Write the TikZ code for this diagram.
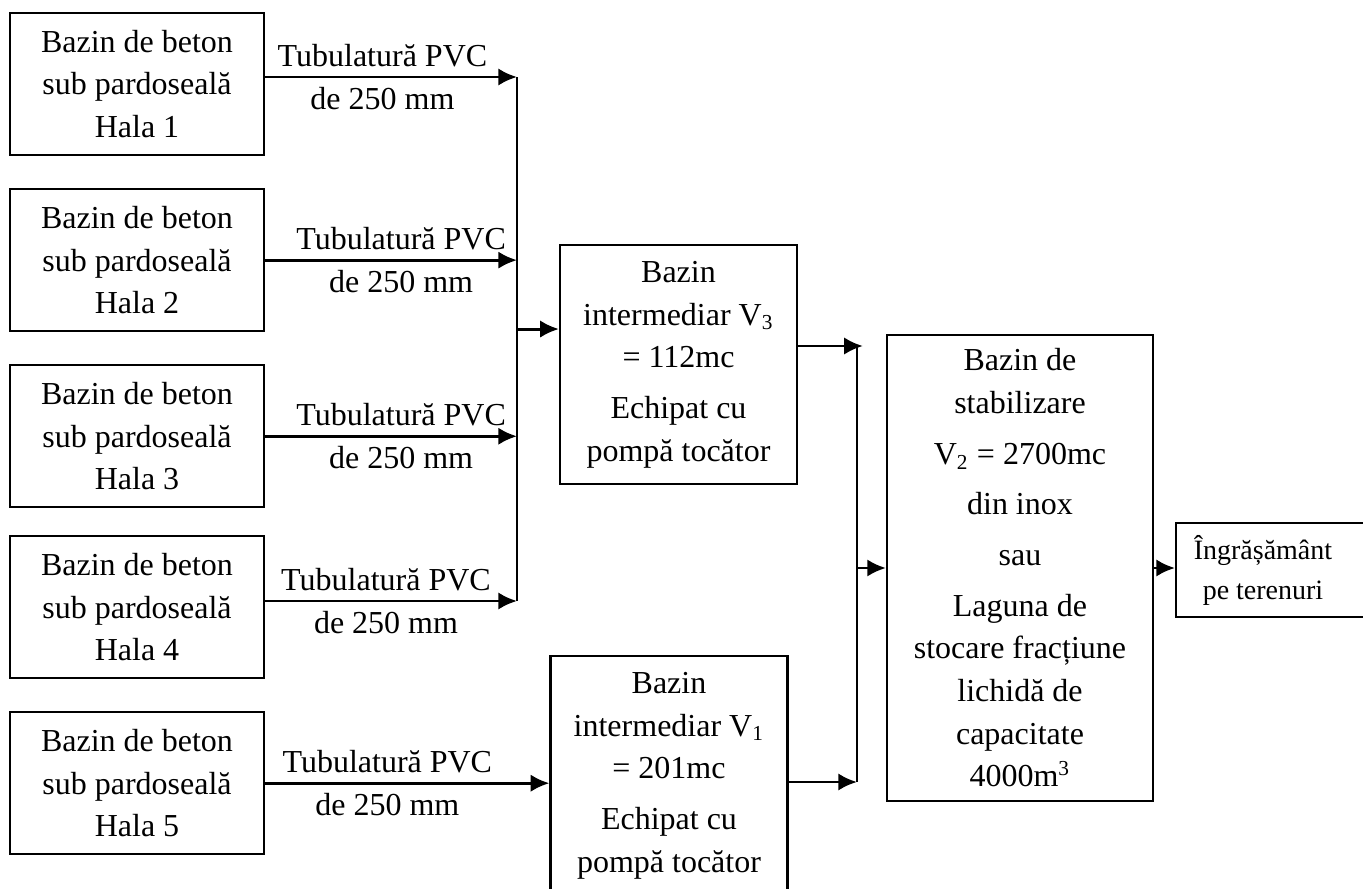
\documentclass[tikz,border=0pt]{standalone}
\usepackage{fontspec}
\setmainfont{Liberation Serif}
\usetikzlibrary{
arrows.meta,
positioning
}
\tikzset{>={Latex[length=7pt,width=6.5pt]}}

\begin{document}
\begin{tikzpicture}[x=0.375pt, y=-0.375pt, font=\fontsize{12}{16}\selectfont,
	hala/.style={draw,line width=0.8pt,minimum width=95.25pt,minimum height=53.25pt,align=center,inner sep=0pt},
	bazin/.style={draw,line width=0.8pt,minimum width=88.9pt,minimum height=89.6pt,align=center,inner sep=0pt},
	pipe/.style={align=center,inner sep=0pt},
	flow/.style={->,line width=1.1pt}]
	\useasboundingbox (0,0) rectangle (1363,889);

	% basins under the halls
	\node[hala] (h1) at (137,84) {Bazin de beton\\sub pardoseală\\Hala 1};
	\node[hala,below=12pt of h1] (h2) {Bazin de beton\\sub pardoseală\\Hala 2};
	\node[hala,below=12pt of h2] (h3) {Bazin de beton\\sub pardoseală\\Hala 3};
	\node[hala,below=10pt of h3] (h4) {Bazin de beton\\sub pardoseală\\Hala 4};
	\node[hala,below=12pt of h4] (h5) {Bazin de beton\\sub pardoseală\\Hala 5};

	% intermediate basins
	\node[bazin] (v3) at (678.5,364.5) {Bazin\\intermediar V\textsubscript{3}\\= 112mc\\[3pt]Echipat cu\\pompă tocător};
	\node[bazin] (v1) at (669,775.5) {Bazin\\intermediar V\textsubscript{1}\\= 201mc\\[3pt]Echipat cu\\pompă tocător};

	\node[draw,line width=0.8pt,minimum width=99.75pt,minimum height=174.75pt,align=center,inner sep=0pt] (stab) at (1020,568)
		{Bazin de\\stabilizare\\[3pt]V\textsubscript{2} = 2700mc\\[3pt]din inox\\[3pt]sau\\[3pt]Laguna de\\stocare fracțiune\\lichidă de\\capacitate\\4000m\textsuperscript{3}};

	\node[draw,line width=0.8pt,minimum width=75pt,minimum height=35.25pt,anchor=west] (out) at (1175,570) {};
	\node[align=center,font=\fontsize{10.5}{15}\selectfont] (outtext) at (1263,570) {Îngrășământ\\pe terenuri};

	% collectors
	\coordinate (bus1top) at (517,77);
	\coordinate (bus1bot) at (517,601);
	\coordinate (bus2top) at (857,346);
	\coordinate (bus2bot) at (857,782);
	\draw[line width=0.9pt] (bus1top) -- (bus1bot);
	\draw[line width=0.9pt] (bus2top) -- (bus2bot);

	\draw[flow] (h1.east |- bus1top) -- node[pipe,pos=0.466] {Tubulatură PVC\\de 250 mm} (bus1top);
	\draw[flow] (h2.east) -- node[pipe,pos=0.54] {Tubulatură PVC\\de 250 mm} (h2.east -| bus1top);
	\draw[flow] (h3.east) -- node[pipe,pos=0.54] {Tubulatură PVC\\de 250 mm} (h3.east -| bus1top);
	\draw[flow] (h4.east |- bus1bot) -- node[pipe,pos=0.48] {Tubulatură PVC\\de 250 mm} (bus1bot);
	\draw[flow] (h5.east) -- node[pipe,pos=0.43] {Tubulatură PVC\\de 250 mm} (h5.east -| v1.west);

	\draw[flow] ([yshift=13.3pt]v3.west -| bus1top) -- ([yshift=13.3pt]v3.west);
	\draw[flow] (v3.east |- bus2top) -- ([xshift=2.2pt]bus2top);
	\draw[flow] (v1.east |- bus2bot) -- (bus2bot);
	\draw[flow] (stab.west -| bus2top) -- (stab.west);
	\draw[flow] (stab.east) -- (stab.east -| out.west);
\end{tikzpicture}
\end{document}
